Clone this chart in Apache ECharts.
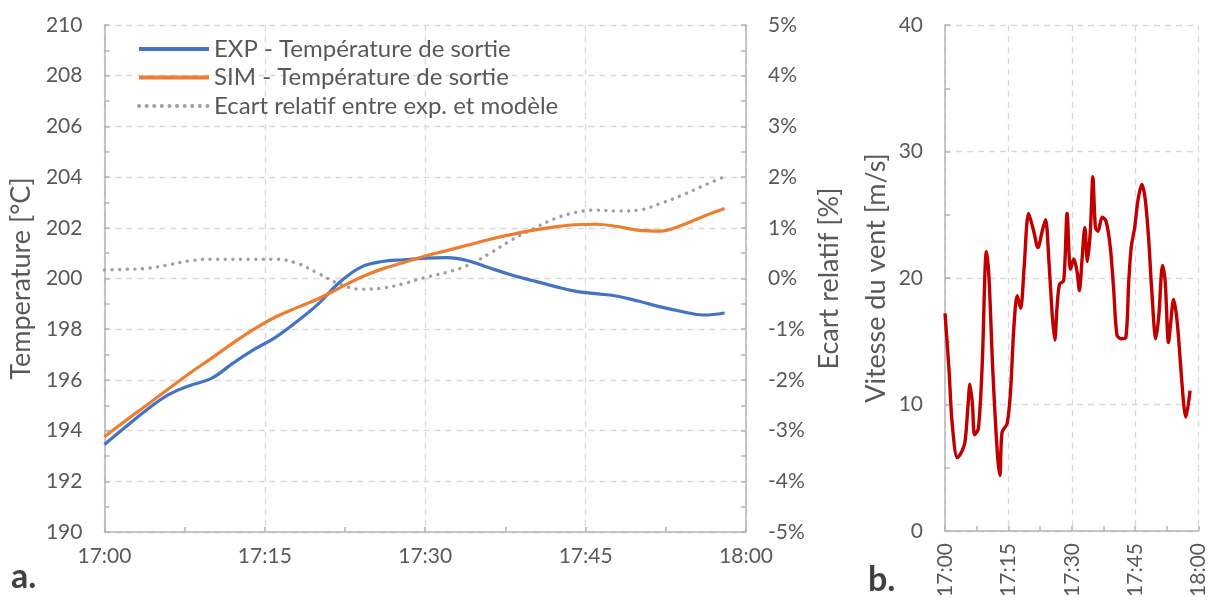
<!DOCTYPE html>
<html>
<head>
<meta charset="utf-8">
<script src="https://cdn.jsdelivr.net/npm/echarts@6/dist/echarts.min.js"></script>
<style>
html,body{margin:0;padding:0;background:#fff;}
#c{width:1209px;height:605px;}
</style>
</head>
<body>
<div id="c"></div>
<script>
// minutes after 17:00
var tempTime = [0,2,4,6,8,10,12,14,16,18,20,22,24,26,28,30,32,34,36,38,40,42,44,46,48,50,52,54,56,58];
var expTemp = [193.45,194.15,194.83,195.42,195.78,196.06,196.65,197.2,197.68,198.3,199.0,199.85,200.45,200.67,200.74,200.8,200.82,200.7,200.42,200.15,199.92,199.7,199.5,199.4,199.3,199.1,198.88,198.7,198.56,198.64];
var simTemp = [193.76,194.4,195.02,195.65,196.27,196.85,197.45,198.0,198.48,198.85,199.2,199.63,200.05,200.38,200.63,200.89,201.1,201.32,201.54,201.73,201.9,202.03,202.12,202.14,202.05,201.9,201.87,202.1,202.45,202.76];
var ecartPct = [0.17,0.18,0.2,0.27,0.35,0.38,0.38,0.38,0.38,0.3,0.1,-0.11,-0.21,-0.19,-0.1,0.02,0.12,0.26,0.49,0.75,0.97,1.17,1.3,1.35,1.33,1.35,1.48,1.64,1.83,2.01];

var windTime = [0,0.94,1.7,2.9,3.7,4.7,5.4,5.9,6.5,7.0,7.9,8.8,9.8,10.4,11.3,12.4,13.0,13.5,14.7,15.5,16.3,17.1,17.9,18.7,19.8,21.0,22.0,23.0,23.8,24.6,25.4,26.0,26.5,27.1,28.1,28.9,29.7,30.5,31.3,31.8,32.4,33.1,33.7,34.4,35.0,35.6,36.2,37.2,38.1,39.1,39.9,40.7,41.7,42.8,43.5,44.1,44.9,45.7,46.6,47.4,48.2,48.9,49.9,50.6,51.5,52.1,52.9,53.4,54.1,54.9,55.7,56.5,57.0,58.0];
var windSpeed = [17.2,12.8,8.5,5.8,6.1,7.0,9.7,11.6,10.0,7.6,8.1,13.1,22.1,20.1,12.8,6.1,4.4,7.8,8.5,11.0,16.1,18.6,17.6,20.7,25.1,23.7,22.4,23.7,24.6,21.3,17.0,15.1,17.6,19.5,19.8,25.1,20.7,21.5,20.4,19.0,21.3,24.0,21.3,23.7,28.0,24.0,23.7,24.8,24.5,22.5,19.2,15.5,15.2,15.3,19.8,22.5,24.0,26.2,27.4,26.2,23.1,19.2,15.2,17.0,21.0,19.8,14.9,16.4,18.3,16.7,13.4,10.0,9.0,11.1];

var tempTicks = {min:190, max:210, interval:2};
var ecartTicks = {min:-5, max:5, interval:1};
var windTicks = {min:0, max:40, interval:10};

var seriesNames = ['EXP - Température de sortie','SIM - Température de sortie','Ecart relatif entre exp. et modèle'];

function pair(xs, ys){ return xs.map(function(x,i){return [x, ys[i]];}); }
function timeFmt(v){ var h = 17 + Math.floor(v/60); var m = Math.round(v % 60); return h + ':' + (m<10?'0':'') + m; }

var FONT = 'Lato';
var TXT = '#595959';
var AX = '#b4b4b4';
var GRIDC = '#d9d9d9';

function baseAxis(extra){
  var o = {
    axisLine:{show:true, onZero:false, lineStyle:{color:AX, width:1.5}},
    axisTick:{show:true, inside:true, length:5, lineStyle:{color:AX, width:1.5}},
    minorTick:{show:true, splitNumber:2, length:5, lineStyle:{color:AX, width:1.5}},
    axisLabel:{color:TXT, fontFamily:FONT, fontSize:21, margin:22},
    splitLine:{show:true, lineStyle:{color:GRIDC, type:[6,5], width:1.3}},
    nameTextStyle:{color:TXT, fontFamily:FONT, fontSize:27}
  };
  for (var k in extra) o[k] = extra[k];
  return o;
}

var chart = echarts.init(document.getElementById('c'), null, {renderer:'canvas'});
chart.setOption({
  animation:false,
  backgroundColor:'#fff',
  grid:[
    {left:102, right:1209-746, top:25, bottom:605-532},
    {left:945, right:10, top:25, bottom:605-531}
  ],
  legend:{
    orient:'vertical', left:132, top:32,
    itemWidth:70, itemHeight:12, itemGap:4.5,
    itemStyle:{opacity:0},
    lineStyle:{width:4},
    textStyle:{color:TXT, fontFamily:FONT, fontSize:24, lineHeight:22},
    data:seriesNames
  },
  xAxis:[
    baseAxis({type:'value', gridIndex:0, min:0, max:60, interval:15,
      axisLabel:{color:TXT, fontFamily:FONT, fontSize:21, margin:14, formatter:timeFmt}}),
    baseAxis({type:'value', gridIndex:1, min:0, max:60, interval:15,
      axisLabel:{color:TXT, fontFamily:FONT, fontSize:21, margin:12, rotate:90, formatter:timeFmt}})
  ],
  yAxis:[
    baseAxis({type:'value', gridIndex:0, min:tempTicks.min, max:tempTicks.max, interval:tempTicks.interval,
      name:'Temperature [°C]', nameLocation:'middle', nameGap:66}),
    baseAxis({type:'value', gridIndex:0, position:'right', min:ecartTicks.min, max:ecartTicks.max, interval:ecartTicks.interval,
      splitLine:{show:false},
      axisLabel:{color:TXT, fontFamily:FONT, fontSize:21, margin:22, formatter:'{value}%'},
      name:'Ecart relatif [%]', nameLocation:'middle', nameGap:70}),
    baseAxis({type:'value', gridIndex:1, min:windTicks.min, max:windTicks.max, interval:windTicks.interval,
      name:'Vitesse du vent [m/s]', nameLocation:'middle', nameGap:55})
  ],
  series:[
    {name:seriesNames[0], type:'line', xAxisIndex:0, yAxisIndex:0, data:pair(tempTime, expTemp),
      showSymbol:false, symbol:'none', smooth:0.4, color:'#4472C4', lineStyle:{width:3.2, color:'#4472C4'}, z:3},
    {name:seriesNames[1], type:'line', xAxisIndex:0, yAxisIndex:0, data:pair(tempTime, simTemp),
      showSymbol:false, symbol:'none', smooth:0.4, color:'#ED7D31', lineStyle:{width:3.2, color:'#ED7D31'}, z:4},
    {name:seriesNames[2], type:'line', xAxisIndex:0, yAxisIndex:1, data:pair(tempTime, ecartPct),
      showSymbol:false, symbol:'none', smooth:0.4, color:'#a0a0a0', lineStyle:{width:3.4, color:'#a0a0a0', type:[0.1,7.5], cap:'round'}, z:2},
    {name:'Vitesse du vent', type:'line', xAxisIndex:1, yAxisIndex:2, data:pair(windTime, windSpeed),
      showSymbol:false, symbol:'none', smooth:0.3, color:'#C00000', lineStyle:{width:3.4, color:'#C00000'}}
  ],
  graphic:[
    {type:'text', left:11, top:560, style:{text:'a.', fill:'#404040', font:'bold 34px Lato'}},
    {type:'text', left:868, top:563, style:{text:'b.', fill:'#404040', font:'bold 34px Lato'}}
  ]
});
</script>
</body>
</html>
